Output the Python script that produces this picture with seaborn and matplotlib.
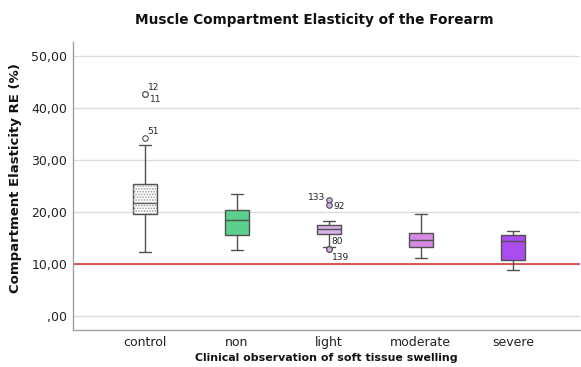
import matplotlib
matplotlib.use("Agg")
import matplotlib.pyplot as plt
import seaborn as sns
import pandas as pd
import numpy as np
from matplotlib.patches import PathPatch

# ---- data ----
categories = ["control", "non", "light", "moderate", "severe"]
whisker_low = [12.3, 12.7, 13.2, 11.2, 8.8]
q1 = [19.6, 15.6, 15.8, 13.3, 10.8]
median = [21.7, 18.5, 16.7, 14.6, 14.4]
q3 = [25.4, 20.4, 17.5, 16.0, 15.6]
whisker_high = [32.9, 23.5, 18.3, 19.6, 16.3]

outlier_cat = ["control", "control", "control", "light", "light", "light", "light"]
outlier_val = [42.7, 42.7, 34.2, 22.3, 21.4, 12.9, 12.8]
outlier_id = ["12", "11", "51", "133", "92", "80", "139"]

reference_value = 10.0
y_ticks = [0, 10, 20, 30, 40, 50]
y_tick_labels = [",00", "10,00", "20,00", "30,00", "40,00", "50,00"]

colors = ["#ffffff", "#5bcf8b", "#d8b0ea", "#d68ae6", "#aa4cf0"]
outlier_face = {"control": "#ffffff", "light": "#d8b0ea"}

# ---- build long table from five-number summaries ----
rows = []
for c, a, b, m, d, e in zip(categories, whisker_low, q1, median, q3, whisker_high):
    for v in (a, b, m, d, e):
        rows.append({"group": c, "value": v})
df = pd.DataFrame(rows)
odf = pd.DataFrame({"group": outlier_cat, "value": outlier_val, "id": outlier_id})

sns.set_style("white")
plt.rcParams["font.family"] = ["DejaVu Sans"]
plt.rcParams["hatch.linewidth"] = 0.8

fig = plt.figure(figsize=(5.81, 3.67), dpi=100)
ax = fig.add_axes([73 / 581, 1 - 330 / 367, (580 - 73) / 581, (330 - 42) / 367])

edge = "#505050"
sns.boxplot(data=df, x="group", y="value", hue="group", order=categories,
            hue_order=categories, palette=colors, whis=(0, 100), width=0.26,
            linecolor=edge, linewidth=1.0, fliersize=0, legend=False, ax=ax,
            saturation=1, zorder=3)

# dotted fill on control box
box0 = ax.patches[0]
hp = PathPatch(box0.get_path(), transform=box0.get_transform(), facecolor="none",
               edgecolor="#9a9a9a", lw=0, hatch="......", zorder=3.5)
ax.add_patch(hp)

# outliers
for g in ["control", "light"]:
    sub = odf[odf["group"] == g]
    sns.scatterplot(data=sub, x="group", y="value", ax=ax, s=16,
                    facecolor=outlier_face[g], edgecolor="#505050",
                    linewidth=0.8, zorder=5, legend=False)

# outlier labels (offsets in points)
offsets = {"12": (2, 5, "left"), "11": (3.5, -4, "left"), "51": (2, 4.5, "left"),
           "133": (-2.5, 1.5, "right"), "92": (3, -1.2, "left"),
           "80": (2, 5.5, "left"), "139": (2.5, -6, "left")}
for _, r in odf.iterrows():
    dx, dy, ha = offsets[r["id"]]
    ax.annotate(r["id"], (categories.index(r["group"]), r["value"]),
                xytext=(dx, dy), textcoords="offset points", ha=ha, va="center",
                fontsize=6.5, color="#222222", zorder=6)

ax.axhline(reference_value, color="#d42a2a", lw=1.1, zorder=2)

ax.set_xlim(-0.78, 4.73)
ax.set_ylim(-2.7, 52.7)
ax.set_yticks(y_ticks)
ax.set_yticklabels(y_tick_labels)
ax.yaxis.grid(True, color="#dcdcdc", lw=1)
ax.set_axisbelow(True)
for s in ["top", "right"]:
    ax.spines[s].set_visible(False)
for s in ["left", "bottom"]:
    ax.spines[s].set_color("#a0a0a0")
    ax.spines[s].set_linewidth(1)
ax.tick_params(axis="both", length=0, labelsize=9, colors="#222222", pad=4)
ax.set_xlabel("Clinical observation of soft tissue swelling", fontsize=7.9,
              fontweight="bold", color="#111111", labelpad=3)
ax.set_ylabel("Compartment Elasticity RE (%)", fontsize=9.5,
              fontweight="bold", color="#111111")
ax.yaxis.set_label_coords((22 - 73) / 507, (330 - 178) / 288)

fig.text(314 / 581, 1 - 20 / 367, "Muscle Compartment Elasticity of the Forearm",
         ha="center", va="center", fontsize=9.8, fontweight="bold", color="#111111")

fig.savefig("out.png", dpi=100)
